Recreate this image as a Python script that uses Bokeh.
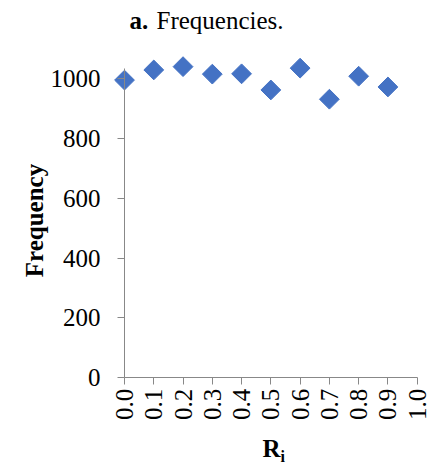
import math
from bokeh.plotting import figure
from bokeh.models import Range1d, FixedTicker, Label
from bokeh.embed import file_html
from bokeh.resources import INLINE

# ---- data ----
r_values = [0.0, 0.1, 0.2, 0.3, 0.4, 0.5, 0.6, 0.7, 0.8, 0.9]
frequencies = [996, 1030, 1041, 1016, 1017, 963, 1036, 932, 1009, 973]
x_ticks = [0.0, 0.1, 0.2, 0.3, 0.4, 0.5, 0.6, 0.7, 0.8, 0.9, 1.0]
x_tick_labels = ["0.0", "0.1", "0.2", "0.3", "0.4", "0.5", "0.6", "0.7", "0.8", "0.9", "1.0"]
y_ticks = [0, 200, 400, 600, 800, 1000]
y_tick_labels = ["0", "200", "400", "600", "800", "1000"]

# ---- layout (canvas pixels) ----
W, H = 428, 464
X0_PX, X_SCALE = 124.0, 292.7      # canvas px of x=0, px per unit
Y0_PX, Y_SCALE = 377.2, 0.2988     # canvas px of y=0, px per unit

def dx(px):
    return (px - X0_PX) / X_SCALE

def dy(py):
    return (Y0_PX - py) / Y_SCALE

FONT = "Liberation Serif"
AXIS_COLOR = "#888888"

p = figure(width=W, height=H, output_backend="svg", toolbar_location=None,
           x_range=Range1d(dx(0), dx(W)),
           y_range=Range1d(dy(H), dy(0)),
           min_border_left=0, min_border_right=0,
           min_border_top=0, min_border_bottom=0)
p.outline_line_color = None
p.grid.visible = False
p.background_fill_color = "white"
p.border_fill_color = "white"

p.scatter(r_values, frequencies, marker="square", size=14, angle=math.pi / 4,
          fill_color="#4472C4", line_color="#4472C4")

# axes
xa = p.xaxis[0]
xa.fixed_location = 0
xa.bounds = (0, 1.0)
xa.ticker = FixedTicker(ticks=x_ticks)
xa.major_label_overrides = {t: l for t, l in zip(x_ticks, x_tick_labels)}
xa.major_label_orientation = math.pi / 2
xa.major_label_standoff = 4
xa.minor_tick_line_color = None

ya = p.yaxis[0]
ya.fixed_location = 0
ya.bounds = (0, 1035)
ya.ticker = FixedTicker(ticks=y_ticks)
ya.major_label_overrides = {t: l for t, l in zip(y_ticks, y_tick_labels)}
ya.major_label_standoff = 17
ya.minor_tick_line_color = None

for ax in (xa, ya):
    ax.axis_line_color = AXIS_COLOR
    ax.major_tick_line_color = AXIS_COLOR
    ax.major_tick_out = 7
    ax.major_tick_in = 0
    ax.major_label_text_font = FONT
    ax.major_label_text_font_size = "25px"
    ax.major_label_text_color = "black"

def add_label(px, py, text, size="25px", style="normal", align="left",
              baseline="alphabetic", angle=0.0):
    p.add_layout(Label(x=dx(px), y=dy(py), text=text, text_font=FONT,
                       text_font_size=size, text_font_style=style,
                       text_align=align, text_baseline=baseline,
                       angle=angle, text_color="black"))

# title
add_label(129, 20, "a.", style="bold")
add_label(156, 20, "Frequencies.")
# y axis label
add_label(34, 220, "Frequency", style="bold", align="center", angle=math.pi / 2)
# x axis label R_i
add_label(262, 448, "R", style="bold")
add_label(280, 456, "i", size="16px", style="bold")

open("out.html", "w").write(file_html(p, INLINE))
